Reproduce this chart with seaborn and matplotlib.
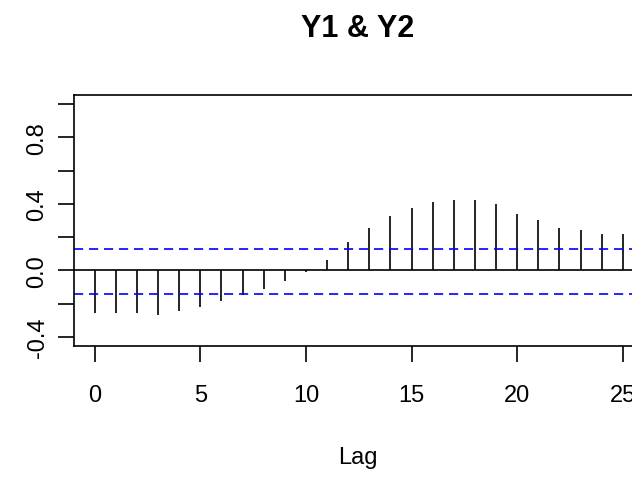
import numpy as np
import matplotlib
matplotlib.use("Agg")
import matplotlib.pyplot as plt
import seaborn as sns

# cross-correlation values
lags = list(range(0, 26))
ccf_values = [-0.259, -0.259, -0.259, -0.271, -0.247, -0.222, -0.186, -0.150,
              -0.113, -0.065, -0.008, 0.062, 0.172, 0.254, 0.326, 0.375,
              0.412, 0.423, 0.423, 0.401, 0.342, 0.302, 0.254, 0.242,
              0.220, 0.220]
ci_upper = 0.131
ci_lower = -0.145

x_ticks = [0, 5, 10, 15, 20, 25]
y_ticks = [-0.4, -0.2, 0.0, 0.2, 0.4, 0.6, 0.8, 1.0]
y_tick_labels = ["-0.4", "", "0.0", "", "0.4", "", "0.8", ""]

sns.set_style("white")
plt.rcParams['font.family'] = ['Liberation Sans', 'DejaVu Sans']
plt.rcParams['text.color'] = 'black'
plt.rcParams['xtick.color'] = 'black'
plt.rcParams['ytick.color'] = 'black'
plt.rcParams['axes.labelcolor'] = 'black'

fig = plt.figure(figsize=(6.32, 4.81), dpi=100)
ax = fig.add_axes([73.6 / 632, 1 - 347 / 481, (644 - 73.6) / 632, (347 - 96) / 481])

# stems
ax.vlines(lags, 0, ccf_values, color='black', linewidth=1.2)
ax.axhline(0, color='black', linewidth=1.2)
ax.axhline(ci_upper, color='blue', linestyle=(0, (5.5, 3.5)), linewidth=1.2)
ax.axhline(ci_lower, color='blue', linestyle=(0, (5.5, 3.5)), linewidth=1.2)

ax.set_xlim(-1, 26)
ax.set_ylim(-0.456, 1.056)

ax.set_xticks(x_ticks)
ax.set_xticklabels([str(t) for t in x_ticks], fontsize=17, color='black')
ax.set_yticks(y_ticks)
ax.set_yticklabels(y_tick_labels, fontsize=17, rotation=90, va='center',
                   color='black')

ax.tick_params(axis='both', direction='out', length=11.5, width=1.2,
               color='black', left=True, bottom=True)
ax.tick_params(axis='x', pad=16)
ax.tick_params(axis='y', pad=6.5)

for side in ax.spines.values():
    side.set_color('black')
    side.set_linewidth(1.2)

fig.text(358 / 632, 1 - 37 / 481, "Y1 & Y2", ha='center', va='baseline',
         fontsize=22, fontweight='bold', color='black')
fig.text(358 / 632, 1 - 464 / 481, "Lag", ha='center', va='baseline',
         fontsize=17, color='black')

fig.savefig("out.png", dpi=100)
